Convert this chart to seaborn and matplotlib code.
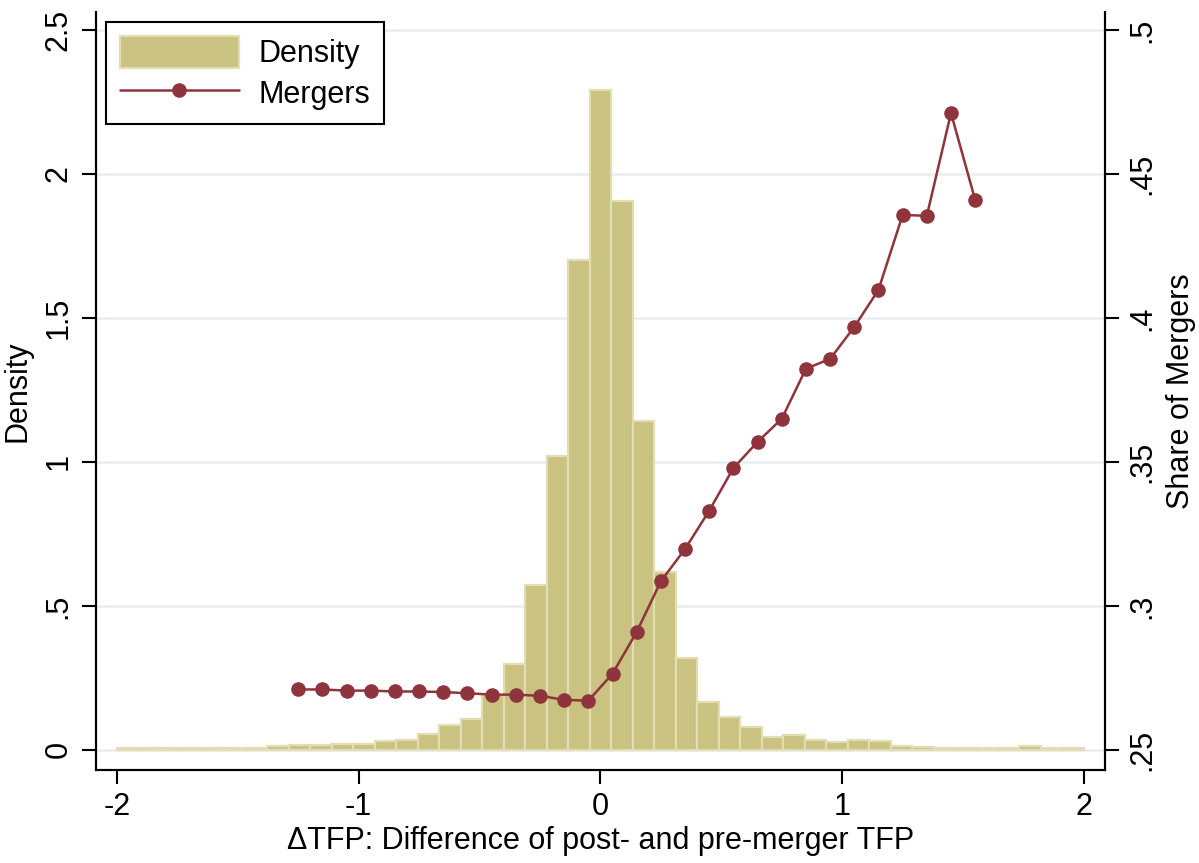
import numpy
import pandas
import seaborn as sea
from matplotlib import pyplot

# histogram of the change in TFP: 45 equal bins between -2 and 2
bin_range = (-2.0, 2.0)
n_bins = 45
density = [
    0.005, 0.005, 0.005, 0.005, 0.005, 0.008, 0.008, 0.012, 0.016, 0.016,
    0.022, 0.019, 0.030, 0.033, 0.055, 0.088, 0.108, 0.190, 0.298, 0.572,
    1.022, 1.703, 2.292, 1.907, 1.141, 0.617, 0.320, 0.166, 0.113, 0.078,
    0.046, 0.051, 0.036, 0.027, 0.035, 0.030, 0.015, 0.011, 0.007, 0.007,
    0.007, 0.007, 0.012, 0.008, 0.005,
]

# share of mergers by TFP change
merger_tfp = [
    -1.25, -1.15, -1.05, -0.95, -0.85, -0.75, -0.65, -0.55, -0.45, -0.35,
    -0.25, -0.15, -0.05, 0.05, 0.15, 0.25, 0.35, 0.45, 0.55, 0.65,
    0.75, 0.85, 0.95, 1.05, 1.15, 1.25, 1.35, 1.45, 1.55,
]
merger_share = [
    0.2710, 0.2710, 0.2706, 0.2706, 0.2703, 0.2703, 0.2701, 0.2697, 0.2692,
    0.2692, 0.2688, 0.2674, 0.2671, 0.2765, 0.2910, 0.3086, 0.3198, 0.3331,
    0.3479, 0.3570, 0.3650, 0.3824, 0.3858, 0.3969, 0.4098, 0.4358, 0.4355,
    0.4712, 0.4410,
]

x_ticks = [-2, -1, 0, 1, 2]
x_tick_labels = ["-2", "-1", "0", "1", "2"]
left_ticks = [0, 0.5, 1, 1.5, 2, 2.5]
left_tick_labels = ["0", ".5", "1", "1.5", "2", "2.5"]
right_ticks = [0.25, 0.3, 0.35, 0.4, 0.45, 0.5]
right_tick_labels = [".25", ".3", ".35", ".4", ".45", ".5"]

bar_color = "#c9c280"
bar_edge = "#e2ddb2"
line_color = "#8f343c"
grid_color = "#e9f0f3"

sea.set_style("white")
pyplot.rcParams["font.family"] = ["Liberation Sans", "DejaVu Sans"]
pyplot.rcParams["font.size"] = 22
pyplot.rcParams["text.color"] = "black"
pyplot.rcParams["axes.labelcolor"] = "black"
pyplot.rcParams["xtick.color"] = "black"
pyplot.rcParams["ytick.color"] = "black"

edges = numpy.linspace(bin_range[0], bin_range[1], n_bins + 1)
centers = (edges[:-1] + edges[1:]) / 2
hist_df = pandas.DataFrame({"tfp": centers, "density": density})
merger_df = pandas.DataFrame({"tfp": merger_tfp, "share": merger_share})

figure = pyplot.figure(figsize=(11.99, 8.63), dpi=100)
axis = figure.add_axes([0.080, 0.108, 0.8416, 0.878])

sea.histplot(
    data=hist_df, x="tfp", weights="density", bins=n_bins,
    binrange=bin_range, stat="count", ax=axis,
    color=bar_color, edgecolor=bar_edge, linewidth=1.6, alpha=1,
    label="Density",
)
axis.set_axisbelow(True)
axis.grid(axis="y", color=grid_color, linewidth=2)
axis.grid(axis="x", visible=False)

# a bit of slack below zero / outside +-2, like the Stata plot region
axis.set_xlim(-2.087, 2.087)
axis.set_ylim(-0.069, 2.5625)
axis.set_xticks(x_ticks, x_tick_labels)
axis.set_yticks(left_ticks, left_tick_labels, rotation=90, va="center")
axis.set_xlabel("ΔTFP: Difference of post- and pre-merger TFP", labelpad=3)
axis.set_ylabel("Density", labelpad=8)

axis2 = axis.twinx()
sea.lineplot(
    data=merger_df, x="tfp", y="share", ax=axis2, color=line_color,
    marker="o", markersize=10.5, markeredgewidth=0, linewidth=1.8,
    label="Mergers", legend=False,
)
axis2.set_ylim(0.25 - 0.0069, 0.25 + 0.25625)
axis2.set_yticks(right_ticks, right_tick_labels, rotation=90, va="center")
axis2.set_ylabel("Share of Mergers", labelpad=6)
axis2.grid(False)

for ax in (axis, axis2):
    for side in ("left", "right", "bottom"):
        ax.spines[side].set_visible(True)
        ax.spines[side].set_color("black")
        ax.spines[side].set_linewidth(1.5)
    ax.spines["top"].set_visible(False)
    ax.tick_params(
        direction="out", length=10, width=1.5, color="black",
        labelcolor="black", labelsize=22, pad=6,
    )
axis.tick_params(axis="y", left=True, right=False)
axis.tick_params(axis="x", bottom=True)
axis2.tick_params(axis="y", right=True)

handles = axis.get_legend_handles_labels()[0] + axis2.get_legend_handles_labels()[0]
labels = ["Density", "Mergers"]
legend = axis2.legend(
    handles, labels, loc="upper left", bbox_to_anchor=(0.010, 0.987),
    borderaxespad=0, fancybox=False, framealpha=1, edgecolor="black",
    fontsize=22, handlelength=3.9, handleheight=1.25, handletextpad=0.65,
    borderpad=0.45, labelspacing=0.25,
)
legend.get_frame().set_linewidth(1.5)

figure.savefig("out.png", dpi=100)
